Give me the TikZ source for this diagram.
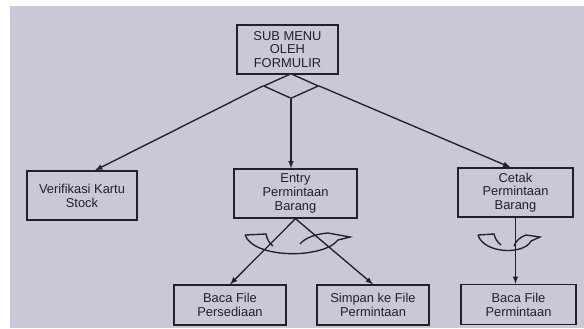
\documentclass[tikz,border=0pt]{standalone}
\usepackage{fontspec}
\setmainfont{Liberation Sans}
\usetikzlibrary{shapes.geometric}
\definecolor{paper}{RGB}{203,199,216}
\definecolor{ink}{RGB}{34,32,40}

\begin{document}
\begin{tikzpicture}[x=0.03cm, y=-0.03cm, >=latex,
                    line width=1.15pt, draw=ink,
                    box/.style={draw=ink, fill=paper, align=center, inner sep=1pt,
                                text=ink, font=\fontsize{11}{11.8}\selectfont,
                                minimum height=1.47cm},
                    flat/.style={box, minimum height=1.2cm}]
                \useasboundingbox (0,0) rectangle (584,328);
                \fill[white] (0,0) rectangle (584,328);
                \fill[paper] (10,6) rectangle (584,328);

                \node (0) [box, minimum width=3.03cm] at (287.5,49.5) {SUB MENU\\OLEH\\FORMULIR};
                \node (_) [draw=ink, fill=paper, diamond, inner sep=0,
                           minimum width=1.65cm, minimum height=0.75cm] at (291,86) {};

                \node (1) [box, minimum width=3.3cm]  at (82,195.5)   {Verifikasi Kartu\\Stock};
                \node (2) [box, minimum width=3.69cm] at (295.5,193.5) {Entry\\Permintaan\\Barang};
                \node (3) [box, minimum width=3.45cm] at (515.5,192.5) {Cetak\\Permintaan\\Barang};

                \node (4) [flat, minimum width=3.36cm] at (230,305)   {Baca File\\Persediaan};
                \node (5) [flat, minimum width=3.36cm] at (373,305)   {Simpan ke File\\Permintaan};
                \node (6) [flat, minimum width=3.45cm] at (518.5,304.5) {Baca File\\Permintaan};

                \draw [->] (_.west) -- ([xshift=0.39cm]1.north);
                \draw [->] (_.south) -- (_.south |- 2.north);
                \draw [->] (_.east) -- ([xshift=-0.15cm]3.north);

                \draw [->] (2.south) -- (4.north);
                \draw [->] (2.south) -- (5.north);
                \draw [->] (3.south) -- (3.south |- 6.north);

                \draw (245,235) -- (266,234) .. controls (267,239) and (269,243) .. (273,246);
                \draw (245,235) .. controls (254,259) and (323,259) .. (338,240)
                      -- (350,237) -- (328,233) .. controls (315,234) and (305,238) .. (300,244);
                \draw (478,235) -- (494,234) .. controls (495,238) and (497,242) .. (501,245);
                \draw (478,235) .. controls (484,254) and (524,255) .. (531,241)
                      -- (540,237) -- (526,235) .. controls (520,237) and (516,241) .. (514,246);
            \end{tikzpicture}
\end{document}
